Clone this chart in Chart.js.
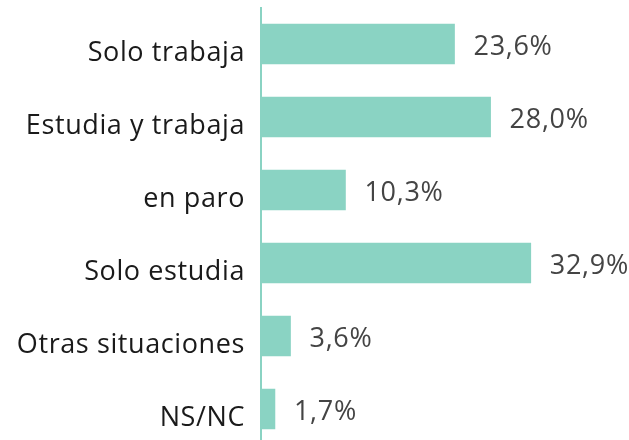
<!DOCTYPE html>
<html>
<head>
<meta charset="utf-8">
<script src="https://cdn.jsdelivr.net/npm/chart.js@4"></script>
<style>
  html, body { margin: 0; padding: 0; background: #fff; overflow: hidden; }
  #wrap { width: 629px; height: 446px; }
</style>
</head>
<body>
<div id="wrap"><canvas id="bar" width="629" height="446"></canvas></div>
<script>
var categories = ['Solo trabaja', 'Estudia y trabaja', 'en paro', 'Solo estudia', 'Otras situaciones', 'NS/NC'];
var values = [23.6, 28.0, 10.3, 32.9, 3.6, 1.7];

var teal = '#8ad3c3';
var fontFamily = '"Open Sans", sans-serif';

// the reference font is a bit wider, so space the letters out
var spacing = {
    id: 'spacing',
    beforeDraw: function (chart) {
        chart.ctx.letterSpacing = '0.6px';
    }
};

// value labels after each bar
var valueLabels = {
    id: 'valueLabels',
    afterDatasetsDraw: function (chart) {
        var c = chart.ctx;
        var meta = chart.getDatasetMeta(0);
        c.save();
        c.letterSpacing = '0.7px';
        c.font = '27px ' + fontFamily;
        c.fillStyle = '#444444';
        c.textAlign = 'left';
        c.textBaseline = 'middle';
        meta.data.forEach(function (bar, i) {
            var txt = values[i].toFixed(1).replace('.', ',') + '%';
            c.fillText(txt, bar.x + 19, bar.y + 3);
        });
        c.restore();
    }
};

var ctx = document.getElementById('bar');
var barChart = new Chart(ctx, {
    type: 'bar',
    data: {
        labels: categories,
        datasets: [{
            data: values,
            backgroundColor: teal,
            borderWidth: 0,
            barThickness: 40
        }]
    },
    options: {
        indexAxis: 'y',
        responsive: false,
        animation: false,
        layout: { padding: { top: 7.5, bottom: 0.5, left: 0, right: 40 } },
        plugins: {
            legend: { display: false },
            tooltip: { enabled: false }
        },
        scales: {
            x: {
                display: false,
                min: 0,
                max: 40
            },
            y: {
                afterFit: function (scale) {
                    scale.width = 261;
                    scale.paddingTop = 0;
                    scale.paddingBottom = 0;
                },
                grid: { display: false },
                border: { display: true, color: teal, width: 2 },
                ticks: {
                    padding: 8,
                    labelOffset: 9,
                    color: '#1a1a1a',
                    font: { family: fontFamily, size: 27 }
                }
            }
        }
    },
    plugins: [spacing, valueLabels]
});
</script>
</body>
</html>
